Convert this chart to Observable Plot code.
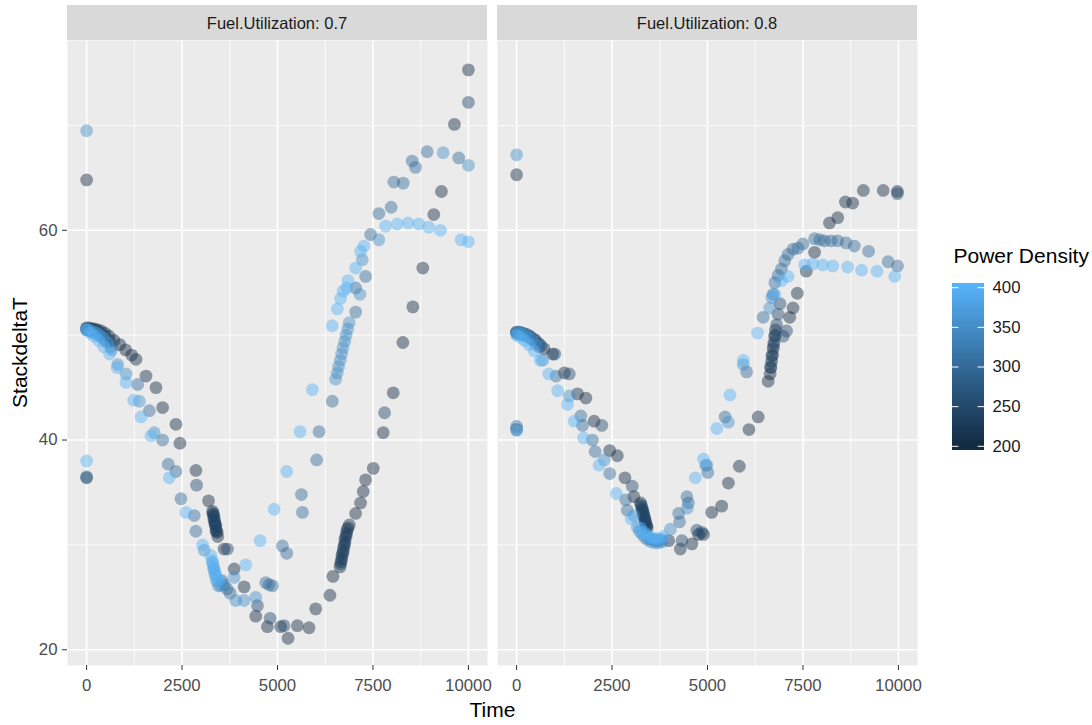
<!DOCTYPE html>
<html><head><meta charset="utf-8">
<script src="https://cdn.jsdelivr.net/npm/d3@7"></script>
<script src="https://cdn.jsdelivr.net/npm/@observablehq/plot@0.6"></script>
<style>
body{margin:0;background:#fff;}
#wrap{position:relative;width:1092px;height:725px;font-family:"Liberation Sans",Arial,sans-serif;}
#chart{position:absolute;left:0;top:0;}
#legend{position:absolute;left:930px;top:250px;}
</style></head><body><div id="wrap"><div id="chart"></div><div id="legend"></div></div>
<script>
// ---------- data ----------
const fuLevels = [0.7, 0.8];
const pdBreaks = [200, 250, 300, 350, 400];
const xBreaks = [0, 2500, 5000, 7500, 10000];
const xMinor = [1250, 3750, 6250, 8750];
const yBreaks = [20, 40, 60];
const yMinor = [30, 50, 70];

// Fuel.Utilization 0.7 : [Time, StackdeltaT]
const fu07_pd200 = [[0,64.8],[0,36.4],[0,50.7],[70,50.7],[140,50.6],[210,50.6],[290,50.5],[380,50.4],[480,50.2],[590,49.9],[720,49.5],[870,49.1],[1020,48.6],[1180,48.1],[1294,47.7],[1556,46.1],[1817,45.0],[1991,43.1],[2340,41.5],[2444,39.7],[2863,37.1],[3194,34.2],[3300,33.2],[3320,32.9],[3335,32.7],[3355,32.3],[3365,32.0],[3385,31.8],[3395,31.4],[3420,31.2],[3435,30.8],[3603,29.6],[3865,27.7],[4126,26.0],[4431,23.2],[4736,22.2],[5085,22.2],[5277,21.1],[5521,22.3],[5826,22.1],[6000,23.9],[6374,25.2],[6453,27.0],[6640,27.9],[6665,28.4],[6685,28.7],[6710,29.2],[6725,29.5],[6755,30.0],[6770,30.3],[6795,30.8],[6810,31.1],[6845,31.6],[6880,31.9],[7046,33.0],[7176,34.0],[7246,35.1],[7307,36.2],[7508,37.3],[7769,40.7],[8031,44.5],[8283,49.3],[8545,52.7],[8806,56.4],[9093,61.5],[9294,63.7],[9634,70.1],[10000,75.3]];
const fu07_pd250 = [[0,50.6],[110,50.5],[230,50.4],[350,50.2],[470,49.9],[600,49.5],[2880,35.7],[3310,33.0],[3330,32.5],[3350,32.2],[3375,31.8],[3390,31.3],[3690,29.6],[4475,24.2],[4806,23.0],[5172,22.3],[6650,28.2],[6690,29.0],[6735,29.8],[6765,30.6],[6820,31.4],[7804,42.6],[10000,72.2]];
const fu07_pd300 = [[0,36.5],[0,50.5],[90,50.4],[180,50.3],[280,50.1],[390,49.8],[510,49.4],[640,48.9],[1338,45.3],[1643,42.8],[1991,40.0],[2139,37.7],[2340,37.0],[2471,34.4],[2819,32.8],[2863,31.3],[3540,26.6],[3600,26.2],[3680,25.8],[3760,25.4],[4693,26.4],[4780,26.2],[4868,26.1],[5129,29.9],[5242,29.2],[5626,34.8],[5652,33.1],[6026,38.1],[6087,40.8],[6436,43.7],[7046,52.2],[7046,54.5],[7307,55.6],[7438,59.6],[7655,61.6],[7978,62.2],[8047,64.6],[8292,64.5],[8527,66.6],[8614,66.0],[8920,67.5],[9747,66.9]];
const fu07_pd350 = [[0,69.5],[0,50.6],[60,50.5],[130,50.4],[200,50.3],[270,50.2],[350,50.0],[440,49.7],[540,49.3],[660,48.6],[815,47.2],[1033,46.3],[1381,43.7],[1773,40.7],[3080,29.5],[3299,28.3],[3330,27.7],[3360,27.2],[3400,26.6],[3450,26.1],[3516,26.1],[3865,26.9],[3908,24.7],[4126,24.7],[4431,25.0],[6523,45.8],[6565,46.4],[6600,47.0],[6645,47.6],[6680,48.2],[6715,48.8],[6760,49.4],[6795,50.0],[6840,50.6],[6880,51.2],[7159,53.9],[7220,57.2],[7655,59.1],[9338,67.4],[10000,66.2]];
const fu07_pd400 = [[0,38.0],[0,50.5],[100,50.2],[200,49.9],[320,49.5],[450,48.9],[600,48.2],[800,46.9],[1033,45.5],[1233,43.8],[1425,42.2],[1686,40.4],[2165,36.4],[2601,33.1],[3037,30.0],[3250,29.0],[3290,28.5],[3320,28.0],[3350,27.6],[3380,27.2],[3420,26.8],[3470,26.6],[4170,28.1],[4545,30.4],[4911,33.4],[5242,37.0],[5590,40.8],[5913,44.8],[6436,50.9],[6567,52.5],[6650,53.5],[6720,54.2],[6820,54.5],[6845,55.2],[7046,56.4],[7176,58.0],[7263,58.5],[7830,60.4],[8136,60.6],[8423,60.7],[8701,60.6],[8962,60.3],[9268,60.0],[9809,59.1],[10000,58.9]];

// Fuel.Utilization 0.8 : [Time, StackdeltaT]
const fu08_pd200 = [[0,65.3],[0,41.0],[0,50.3],[80,50.3],[160,50.2],[250,50.1],[350,49.9],[460,49.6],[580,49.2],[720,48.7],[945,48.2],[1250,46.4],[1596,44.4],[1815,44.0],[2031,41.8],[2439,39.0],[2639,38.5],[2839,36.4],[3073,34.6],[3247,34.0],[3280,33.6],[3300,33.3],[3320,33.0],[3340,32.7],[3360,32.4],[3380,32.1],[3400,31.8],[3420,31.6],[3984,30.4],[4289,29.6],[4591,30.1],[4766,31.0],[4896,31.0],[5112,33.1],[5372,33.7],[5547,35.9],[5833,37.5],[6086,41.0],[6328,42.2],[6589,45.6],[6640,46.3],[6660,46.9],[6680,47.5],[6700,48.1],[6720,48.7],[6740,49.3],[6760,49.9],[6780,50.5],[7153,51.7],[7240,52.6],[7352,54.0],[7586,56.1],[7804,57.9],[8195,60.7],[8411,61.2],[8612,62.7],[8802,62.6],[9081,63.8],[9602,63.8],[9974,63.7]];
const fu08_pd250 = [[0,50.2],[120,50.1],[240,50.0],[370,49.8],[500,49.5],[640,49.0],[1000,48.2],[1380,46.3],[2232,41.4],[3029,35.6],[3260,33.8],[3290,33.4],[3320,33.0],[3350,32.6],[3380,32.2],[3410,31.8],[4331,30.4],[4721,31.4],[4850,31.2],[6650,47.0],[6690,48.0],[6730,49.0],[6770,50.0],[6810,51.0],[6850,52.0],[6900,53.0],[6980,49.9],[7070,50.4],[9974,63.5]];
const fu08_pd300 = [[0,41.3],[0,50.2],[100,50.1],[200,50.0],[320,49.8],[450,49.4],[590,48.9],[1033,46.1],[1684,42.3],[1727,41.4],[1987,40.0],[2057,38.9],[2439,36.8],[2857,34.3],[2899,33.3],[3500,30.6],[3600,30.5],[3700,30.4],[3800,30.5],[4245,33.0],[4270,32.2],[4461,34.6],[4500,34.0],[5008,36.9],[5460,42.2],[6024,46.5],[6458,51.7],[6719,53.9],[6763,55.0],[6850,55.7],[6936,56.3],[7023,57.1],[7109,57.7],[7240,58.2],[7370,58.3],[7500,58.7],[7804,59.2],[7940,59.1],[8064,59.0],[8240,59.0],[8411,59.0],[8628,58.8],[8845,58.5],[9219,58.0],[9732,57.0],[9974,56.6]];
const fu08_pd350 = [[0,67.2],[0,50.3],[60,50.3],[130,50.2],[210,50.1],[300,49.9],[400,49.6],[520,49.1],[685,47.6],[1380,44.2],[2292,38.1],[3073,32.8],[3160,31.7],[3220,31.3],[3290,31.0],[3360,30.7],[3430,30.5],[3520,30.3],[3620,30.2],[3720,30.2],[3820,30.3],[4028,31.5],[4470,33.5],[4955,37.6],[4982,37.6],[5547,41.7],[5937,47.2],[6632,52.6],[6680,53.6]];
const fu08_pd400 = [[0,40.9],[0,50.0],[100,49.8],[210,49.5],[330,49.1],[460,48.5],[620,47.6],[841,46.3],[1076,44.7],[1336,43.4],[1510,41.8],[1753,40.2],[2161,37.6],[2612,34.9],[3000,32.5],[3250,31.6],[3330,31.2],[3420,30.9],[3520,30.7],[3620,30.6],[3720,30.6],[3850,30.8],[4680,36.4],[4896,38.2],[5243,41.1],[5590,44.3],[5937,47.6],[6311,50.2],[6763,53.9],[6936,55.2],[7109,55.6],[7544,56.7],[7760,56.8],[8020,56.7],[8281,56.6],[8672,56.5],[9036,56.2],[9440,56.1],[9904,55.6]];

// ---------- table ----------
const rows = [];
function add(fu, pd, pts) { for (const [t, v] of pts) rows.push({fu, pd, time: t, dT: v}); }
add(0.7, 200, fu07_pd200); add(0.7, 250, fu07_pd250); add(0.7, 300, fu07_pd300); add(0.7, 350, fu07_pd350); add(0.7, 400, fu07_pd400);
add(0.8, 200, fu08_pd200); add(0.8, 250, fu08_pd250); add(0.8, 300, fu08_pd300); add(0.8, 350, fu08_pd350); add(0.8, 400, fu08_pd400);

const FONT = "Liberation Sans, Arial, Helvetica, sans-serif";
const colorOpts = {type: "linear", domain: [200, 400], range: ["#132B43", "#56B1F7"], interpolate: "lab", clamp: true};

const W = 930, H = 725, ML = 67, MR = W - 918, MT = 40, MB = 60;
const chart = Plot.plot({
  width: W, height: H,
  marginLeft: ML, marginRight: MR, marginTop: MT, marginBottom: MB,
  style: {fontFamily: FONT, fontSize: "16.8px", background: "white", color: "#333333", overflow: "visible"},
  fx: {domain: fuLevels, paddingInner: 10 / 430.5, paddingOuter: 0, axis: null, label: null},
  x: {domain: [-500, 10500]},
  y: {domain: [18.5, 78.1]},
  color: colorOpts,
  marks: [
    Plot.frame({fill: "#EBEBEB", stroke: null}),
    Plot.ruleX(xMinor, {stroke: "white", strokeWidth: 0.8}),
    Plot.ruleY(yMinor, {stroke: "white", strokeWidth: 0.8}),
    Plot.ruleX(xBreaks, {stroke: "white", strokeWidth: 1.6}),
    Plot.ruleY(yBreaks, {stroke: "white", strokeWidth: 1.6}),
    Plot.dot(rows, {fx: "fu", x: "time", y: "dT", fill: "pd", r: 6.4, fillOpacity: 0.45, stroke: null}),
    Plot.axisX({ticks: xBreaks, tickFormat: d3.format("d"), tickSize: 5, tickPadding: 9, color: "#4D4D4D", stroke: "#333333", label: null}),
    Plot.axisY({ticks: yBreaks, tickSize: 5, tickPadding: 5, color: "#4D4D4D", stroke: "#333333", label: null})
  ]
});
document.getElementById("chart").appendChild(chart);

// facet strips and axis titles
const svg = d3.select(chart);
const fxs = chart.scale("fx");
const bw = fxs.bandwidth;
fuLevels.forEach((d, i) => {
  const x0 = typeof fxs.apply === "function" ? fxs.apply(d) : ML + i * fxs.step;
  svg.append("rect").attr("x", x0).attr("y", 5).attr("width", bw).attr("height", MT - 5).attr("fill", "#D9D9D9");
  svg.append("text").attr("x", x0 + bw / 2).attr("y", 23).attr("text-anchor", "middle").attr("dominant-baseline", "central")
    .attr("font-size", "16.5px").attr("fill", "#1A1A1A").text("Fuel.Utilization: " + d);
});
svg.append("text").attr("x", (ML + W - MR) / 2).attr("y", 717).attr("text-anchor", "middle")
  .attr("font-size", "21px").attr("fill", "black").text("Time");
svg.append("text").attr("transform", `translate(27,${(MT + H - MB) / 2}) rotate(-90)`).attr("text-anchor", "middle")
  .attr("font-size", "21px").attr("fill", "black").text("StackdeltaT");

// ---------- colourbar legend ----------
const barLo = 194.7, barHi = 405.3;
const cells = d3.range(0, 84).map(i => ({v0: barLo + (barHi - barLo) * i / 84, v1: barLo + (barHi - barLo) * (i + 1) / 84}));
const legend = Plot.plot({
  width: 160, height: 215,
  marginLeft: 22, marginRight: 106, marginTop: 33, marginBottom: 15,
  style: {fontFamily: FONT, background: "transparent", overflow: "visible"},
  x: {domain: [0, 1], axis: null},
  y: {domain: [barLo, barHi], axis: null},
  color: colorOpts,
  marks: [
    Plot.rect(cells, {x1: 0, x2: 1, y1: "v0", y2: d => Math.min(barHi, d.v1 + 1), fill: d => (d.v0 + d.v1) / 2, shapeRendering: "crispEdges"}),
    Plot.ruleY(pdBreaks, {x1: 0, x2: 0.2, stroke: "white", strokeWidth: 1}),
    Plot.ruleY(pdBreaks, {x1: 0.8, x2: 1, stroke: "white", strokeWidth: 1}),
    Plot.text(pdBreaks, {x: 1, y: d => d, dx: 8, textAnchor: "start", fontSize: 16.8, fill: "#1A1A1A"}),
    Plot.text(["Power Density"], {frameAnchor: "top-left", dy: -21, dx: 1, textAnchor: "start", lineAnchor: "bottom", fontSize: 21, fill: "black"})
  ]
});
document.getElementById("legend").appendChild(legend);
</script></body></html>
